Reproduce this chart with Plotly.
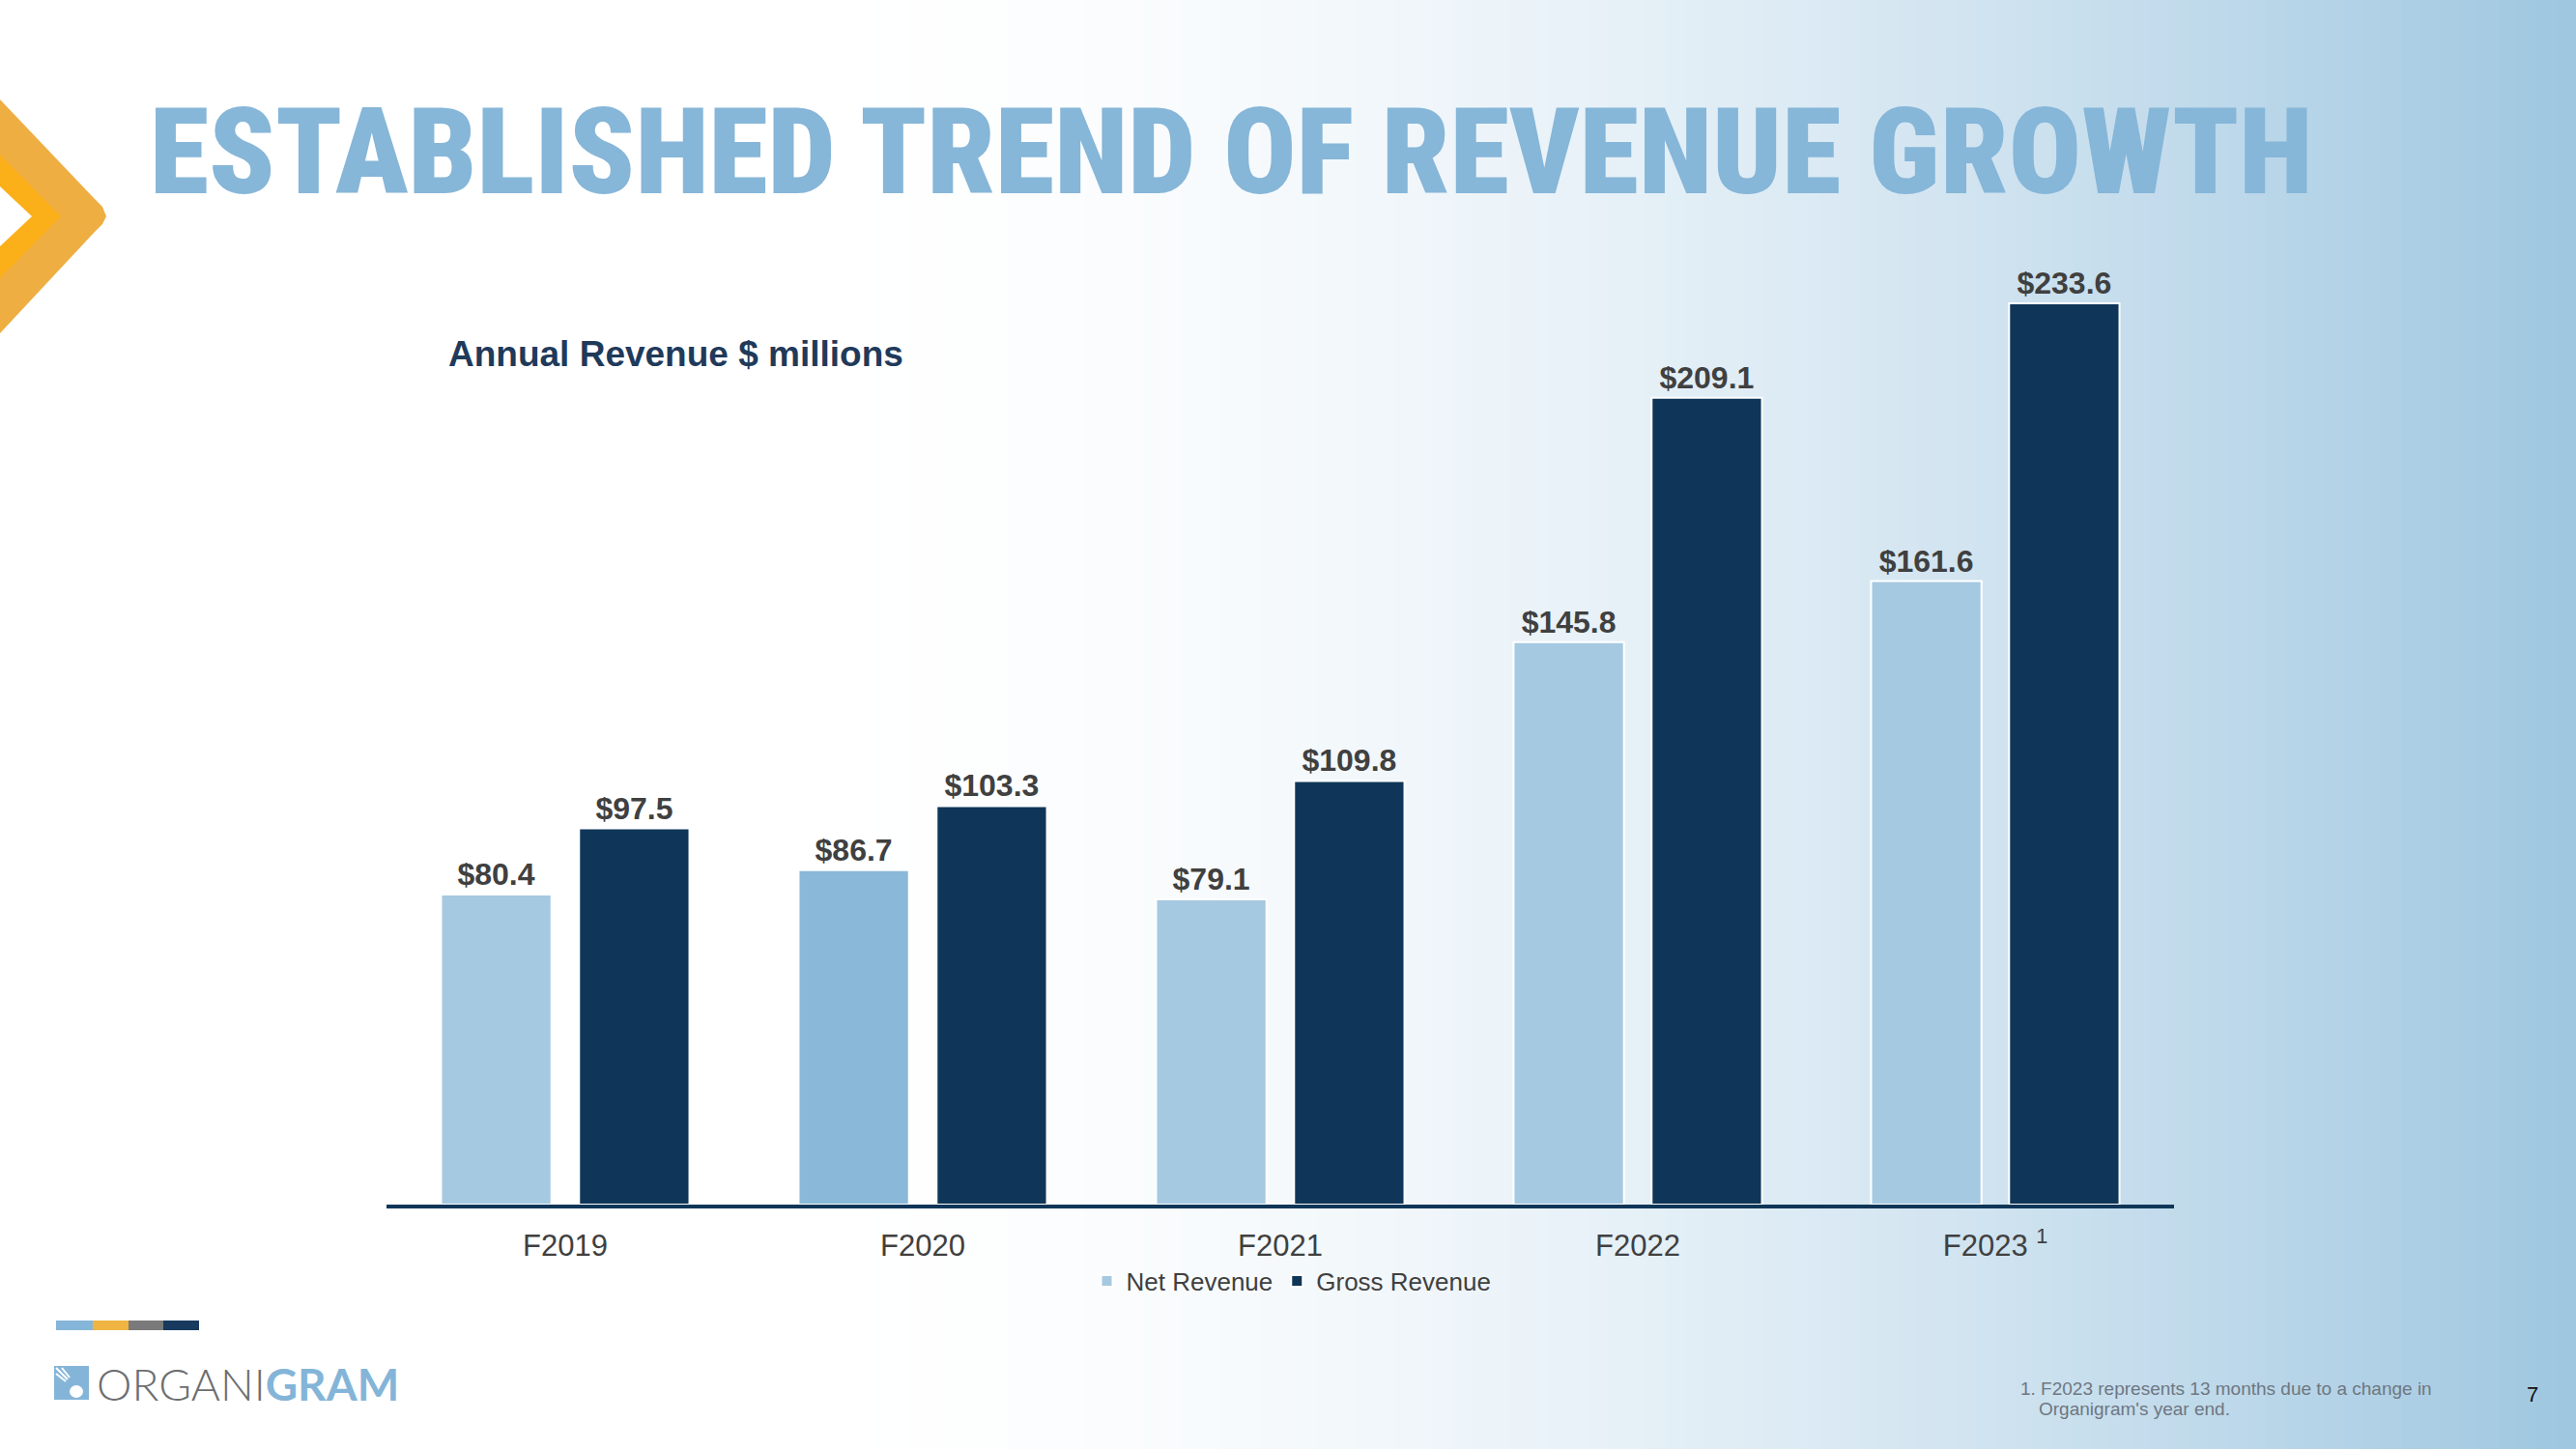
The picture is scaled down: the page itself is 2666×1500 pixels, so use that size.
import plotly.graph_objects as go

# ---------------- data ----------------
categories = ["F2019", "F2020", "F2021", "F2022", "F2023"]
tick_labels = ["F2019", "F2020", "F2021", "F2022", "F2023 <sup>1</sup>"]
net_revenue = [80.4, 86.7, 79.1, 145.8, 161.6]
gross_revenue = [97.5, 103.3, 109.8, 209.1, 233.6]

# ---------------- styles ----------------
W, H = 2666, 1500
NET_COLORS = ["#A5C9E0", "#89B8D9", "#A5C9E0", "#A5C9E0", "#A5C9E0"]
GROSS_COLOR = "#0F3658"
LABEL_COLOR = "#404040"
TITLE_COLOR = "#86B6D8"


def px(x):
    return x / W


def py(y):
    return 1 - y / H


fig = go.Figure()

label_font = dict(family="Liberation Sans, Arial", size=32, color=LABEL_COLOR, weight="bold")

fig.add_trace(go.Bar(
    x=categories, y=net_revenue, name="Net Revenue",
    marker=dict(color=NET_COLORS, line=dict(color="white", width=2)),
    text=[f"${v:.1f}" for v in net_revenue], textposition="outside",
    textfont=label_font, cliponaxis=False,
))
fig.add_trace(go.Bar(
    x=categories, y=gross_revenue, name="Gross Revenue",
    marker=dict(color=GROSS_COLOR, line=dict(color="white", width=2)),
    text=[f"${v:.1f}" for v in gross_revenue], textposition="outside",
    textfont=label_font, cliponaxis=False,
))

shapes = []
# background gradient (white -> light blue, left to right)
N = 133
end = (158, 198, 224)
for i in range(N):
    t = (i + 0.5) / N
    f = max(0.0, (t - 0.3) / 0.7) ** 1.8
    c = tuple(int(round(255 - f * (255 - e))) for e in end)
    shapes.append(dict(type="rect", xref="paper", yref="paper",
                       x0=i / N, x1=(i + 1) / N + 0.001, y0=0, y1=1,
                       fillcolor=f"rgb{c}", line=dict(width=0), layer="below"))


def path(points):
    return "M " + " L ".join(f"{px(x):.5f},{py(y):.5f}" for x, y in points) + " Z"


# chevron on the left
shapes.append(dict(type="path", xref="paper", yref="paper",
                   path=path([(0, 103), (98, 206), (106, 214), (110, 224), (106, 232), (98, 240), (0, 345)]),
                   fillcolor="#EEAE42", line=dict(width=0), layer="below"))
shapes.append(dict(type="path", xref="paper", yref="paper",
                   path=path([(0, 160), (63, 224), (0, 288)]),
                   fillcolor="#FBB01A", line=dict(width=0), layer="below"))
shapes.append(dict(type="path", xref="paper", yref="paper",
                   path=path([(0, 193), (33, 224), (0, 255)]),
                   fillcolor="#FFFFFF", line=dict(width=0), layer="below"))

# logo colour bar
for x0, x1, col in [(58, 96, "#85B5D8"), (96, 133, "#EFB441"), (133, 169, "#7A7A7A"), (169, 206, "#173A5E")]:
    shapes.append(dict(type="rect", xref="paper", yref="paper",
                       x0=px(x0), x1=px(x1), y0=py(1377), y1=py(1367),
                       fillcolor=col, line=dict(width=0)))
# logo icon
shapes.append(dict(type="rect", xref="paper", yref="paper",
                   x0=px(56), x1=px(92), y0=py(1449), y1=py(1414),
                   fillcolor="#84B5D8", line=dict(width=0)))
shapes.append(dict(type="circle", xref="paper", yref="paper",
                   x0=px(72), x1=px(86), y0=py(1447), y1=py(1434),
                   fillcolor="white", line=dict(width=0)))
for (a, b) in [((58, 1416), (70, 1428)), ((64, 1416), (72, 1426)), ((58, 1422), (68, 1430))]:
    shapes.append(dict(type="line", xref="paper", yref="paper",
                       x0=px(a[0]), y0=py(a[1]), x1=px(b[0]), y1=py(b[1]),
                       line=dict(color="white", width=2)))

annotations = [
    dict(text="<span style='font-stretch:condensed'>ESTABLISHED TREND OF REVENUE GROWTH</span>",
         x=px(153), y=py(158), xref="paper", yref="paper",
         xanchor="left", yanchor="middle", showarrow=False,
         font=dict(family="Roboto, Arial", size=125, color=TITLE_COLOR, weight=900)),
    dict(text="Annual Revenue $ millions", x=px(462), y=py(366), xref="paper", yref="paper",
         xanchor="left", yanchor="middle", showarrow=False,
         font=dict(family="Liberation Sans, Arial", size=37, color="#1F3A5A", weight="bold")),
    dict(text="1. F2023 represents 13 months due to a change in", x=px(2089), y=py(1437),
         xref="paper", yref="paper", xanchor="left", yanchor="middle", showarrow=False,
         font=dict(family="Liberation Sans, Arial", size=19, color="#6E7781")),
    dict(text="Organigram's year end.", x=px(2108), y=py(1458),
         xref="paper", yref="paper", xanchor="left", yanchor="middle", showarrow=False,
         font=dict(family="Liberation Sans, Arial", size=19, color="#6E7781")),
    dict(text="7", x=px(2621), y=py(1443), xref="paper", yref="paper",
         xanchor="center", yanchor="middle", showarrow=False,
         font=dict(family="Liberation Sans, Arial", size=22, color="#111111")),
    dict(text="<span style='color:#6D6E70'>ORGANI</span><span style='color:#84B5D8;font-weight:bold'>GRAM</span>",
         x=px(98), y=py(1432), xref="paper", yref="paper", xanchor="left", yanchor="middle",
         showarrow=False, font=dict(family="Lato, Open Sans", size=46, weight=300)),
]

plot_top = 250
axis_y = 1247
px_per_unit = 3.994

fig.update_layout(
    width=W, height=H, autosize=False,
    margin=dict(l=0, r=0, t=0, b=0),
    paper_bgcolor="white", plot_bgcolor="rgba(0,0,0,0)",
    barmode="group", bargap=0.228, bargroupgap=0.2,
    showlegend=True,
    legend=dict(orientation="h", x=px(1337), y=py(1326), xanchor="center", yanchor="middle",
                font=dict(family="Liberation Sans, Arial", size=26, color=LABEL_COLOR),
                bgcolor="rgba(0,0,0,0)", itemwidth=30),
    xaxis=dict(domain=[px(400), px(2250)], showline=True, linecolor=GROSS_COLOR, linewidth=4,
               showgrid=False, zeroline=False, ticks="",
               tickmode="array", tickvals=categories, ticktext=tick_labels,
               tickfont=dict(family="Liberation Sans, Arial", size=31, color=LABEL_COLOR),
               ticklabelstandoff=12, fixedrange=True),
    yaxis=dict(domain=[py(axis_y), py(plot_top)], range=[0, (axis_y - plot_top) / px_per_unit],
               visible=False, fixedrange=True),
    shapes=shapes,
    annotations=annotations,
)

fig.write_html("out.html", config={"displayModeBar": False},
               post_script="document.body.style.margin='0';document.body.style.overflow='hidden';")
